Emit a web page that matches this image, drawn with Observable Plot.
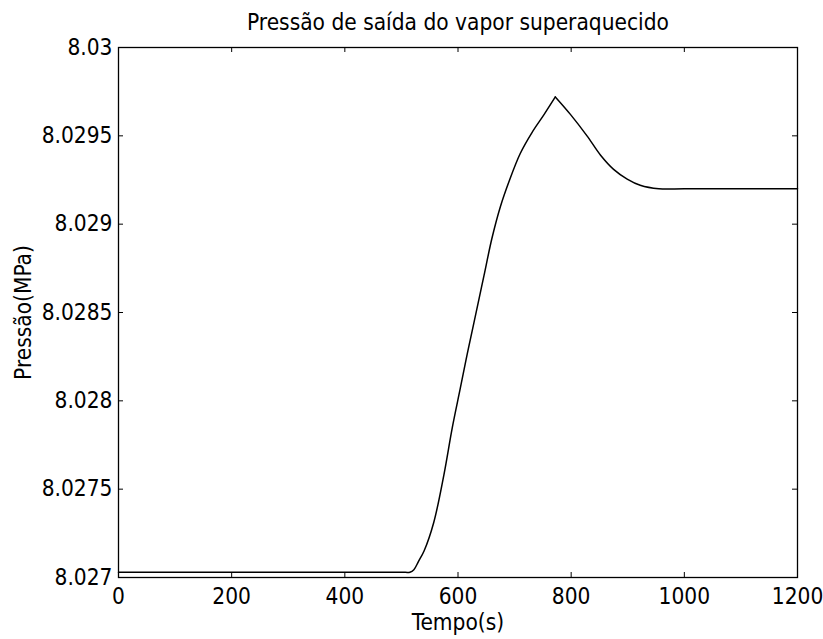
<!DOCTYPE html>
<html>
<head>
<meta charset="utf-8">
<script src="https://cdn.jsdelivr.net/npm/d3@7"></script>
<script src="https://cdn.jsdelivr.net/npm/@observablehq/plot@0.6"></script>
<style>
  html, body { margin: 0; padding: 0; background: #fff; }
  #chart svg { display: block; }
</style>
</head>
<body>
<div id="chart"></div>
<script>
const title = "Pressão de saída do vapor superaquecido";
const xLabel = "Tempo(s)";
const yLabel = "Pressão(MPa)";

const tempo = [0, 100, 200, 300, 400, 500, 515, 522, 530, 540, 557, 575, 590, 604, 616, 628, 638, 646, 660, 675, 690, 710, 731, 752, 772, 799, 828, 852, 875, 899, 922, 955, 1000, 1100, 1200];
const pressao = [8.02703, 8.02703, 8.02703, 8.02703, 8.02703, 8.02703, 8.02703, 8.027044, 8.02709, 8.02715, 8.02731, 8.02758, 8.02785, 8.02807, 8.02826, 8.02844, 8.02859, 8.02871, 8.02892, 8.02910, 8.02924, 8.02940, 8.02952, 8.02962, 8.02972, 8.02962, 8.02950, 8.02939, 8.02931, 8.029255, 8.02922, 8.02920, 8.02920, 8.02920, 8.02920];
const peakTempo = 772;

const xTicks = [0, 200, 400, 600, 800, 1000, 1200];
const yTicks = [8.027, 8.0275, 8.028, 8.0285, 8.029, 8.0295, 8.03];

// split at the peak so the cusp stays sharp while each side is smoothed
const data = [];
tempo.forEach((t, i) => {
  if (t <= peakTempo) data.push({t, p: pressao[i], s: "rise"});
  if (t >= peakTempo) data.push({t, p: pressao[i], s: "fall"});
});

const W = 823, H = 639;
const mL = 118, mR = 26, mT = 47, mB = 62;
const pw = W - mL - mR, ph = H - mT - mB;
const tk = 5;
const fmtY = d => String(+d.toFixed(4));
const fmtX = d => String(d);
const font = "'DejaVu Sans Condensed', 'Liberation Sans Narrow', sans-serif";
const fs = 22.5;

const chart = Plot.plot({
  width: W,
  height: H,
  marginLeft: mL,
  marginRight: mR,
  marginTop: mT,
  marginBottom: mB,
  style: {fontFamily: font, fontSize: fs + "px", color: "#000", background: "#fff"},
  x: {domain: [0, 1200]},
  y: {domain: [8.027, 8.03]},
  marks: [
    Plot.axisX(xTicks, {anchor: "bottom", tickSize: 0, tickPadding: 11, tickFormat: fmtX, label: null, fontSize: fs}),
    Plot.axisY(yTicks, {anchor: "left", tickSize: 0, tickPadding: 6, tickFormat: fmtY, label: null, fontSize: fs}),
    Plot.ruleX(xTicks, {x: d => d, insetTop: ph - tk, stroke: "#000"}),
    Plot.ruleX(xTicks, {x: d => d, insetBottom: ph - tk, stroke: "#000"}),
    Plot.ruleY(yTicks, {y: d => d, insetRight: pw - tk, stroke: "#000"}),
    Plot.ruleY(yTicks, {y: d => d, insetLeft: pw - tk, stroke: "#000"}),
    Plot.frame({stroke: "#000", strokeWidth: 1.3}),
    Plot.line(data, {x: "t", y: "p", z: "s", curve: "catmull-rom", stroke: "#000", strokeWidth: 1.5}),
    Plot.text([title], {frameAnchor: "top", lineAnchor: "middle", dy: -25, fontSize: fs, fill: "#000"}),
    Plot.text([xLabel], {frameAnchor: "bottom", lineAnchor: "middle", dy: 45, fontSize: fs, fill: "#000"}),
    Plot.text([yLabel], {frameAnchor: "left", textAnchor: "middle", lineAnchor: "middle", dx: -95, rotate: -90, fontSize: fs, fill: "#000"})
  ]
});
document.getElementById("chart").appendChild(chart);
</script>
</body>
</html>
